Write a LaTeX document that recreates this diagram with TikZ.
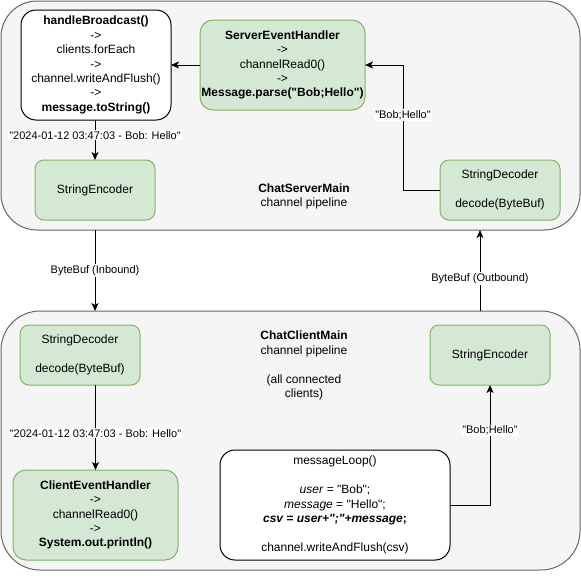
\documentclass[tikz,border=0pt]{standalone}
\usepackage{fontspec}
\setmainfont{Liberation Sans}[Ligatures=TeXOff]
\usepackage{tikz}
\usetikzlibrary{arrows.meta}
\usetikzlibrary{positioning}

\definecolor{pipefill}{HTML}{F5F5F5}
\definecolor{pipeedge}{HTML}{666666}
\definecolor{handlerfill}{HTML}{D5E8D4}
\definecolor{handleredge}{HTML}{82B366}
\newcommand{\boxfont}{\fontsize{12}{14.4}\selectfont}
\newcommand{\lblfont}{\fontsize{11}{13.2}\selectfont}

\begin{document}
\begin{tikzpicture}[x=1pt, y=-1pt,
    pipe/.style={draw=pipeedge, fill=pipefill, line width=1pt, rounded corners=36pt, inner sep=0pt, outer sep=0pt},
    greenbox/.style={draw=handleredge, fill=handlerfill, line width=1pt, rounded corners=9pt,
      align=center, inner sep=0pt, outer sep=0pt, font=\boxfont},
    whitebox/.style={draw=black, fill=white, line width=1pt, rounded corners=15pt,
      align=center, inner sep=0pt, outer sep=0pt, font=\boxfont},
    plain/.style={align=center, font=\boxfont},
    lbl/.style={fill=white, inner sep=1pt, font=\lblfont},
    arr/.style={line width=1pt, -{Stealth[length=8pt, width=7pt, inset=2pt]}}]
      \useasboundingbox (0,0) rectangle (581,579);
      % server side
      \node[pipe, minimum width=579, minimum height=229] (srv) at (290.5,115.5) {};
      \node[whitebox, rounded corners=15pt, minimum width=150, minimum height=110] (hb) at (96,65)
        {\textbf{handleBroadcast()}\\->\\clients.forEach\\->\\channel.writeAndFlush()\\->\\\textbf{message.toString()}};
      \node[greenbox, rounded corners=13pt, minimum width=165, minimum height=90] (seh) at (282.5,65)
        {\textbf{ServerEventHandler}\\->\\channelRead0()\\->\\\textbf{Message.parse("Bob;Hello")}};
      \node[greenbox, minimum width=120, minimum height=60] (senc) at (95,190) {StringEncoder};
      \node[greenbox, minimum width=120, minimum height=60] (sdec) at (500,190) {StringDecoder\\[14.4pt]decode(ByteBuf)};
      \node[plain] (srvname) at (304,196.5) {\textbf{ChatServerMain}\\channel pipeline};
      % client side
      \node[pipe, rounded corners=39pt, minimum width=579, minimum height=259] (cli) at (290.5,440.5) {};
      \node[greenbox, minimum width=120, minimum height=60] (cdec) at (80,355) {StringDecoder\\[14.4pt]decode(ByteBuf)};
      \node[greenbox, rounded corners=13pt, minimum width=165, minimum height=90] (ceh) at (95.5,515)
        {\textbf{ClientEventHandler}\\->\\channelRead0()\\->\\\textbf{System.out.println()}};
      \node[greenbox, minimum width=120, minimum height=60] (cenc) at (490,355) {StringEncoder};
      \node[whitebox, minimum width=230, minimum height=110] (ml) at (335,505)
        {messageLoop()\\[14.4pt]\textit{user} = "Bob";\\\textit{message} = "Hello";\\
         \textbf{\textit{csv = user+";"+message};}\\[14.4pt]channel.writeAndFlush(csv)};
      \node[plain] (cliname) at (304,365.5) {\textbf{ChatClientMain}\\channel pipeline\\[14.4pt](all connected\\clients)};
      % connectors
      \coordinate (outx) at (480,0);
      \draw[arr] (seh.west) -- (hb.east |- seh.west);
      \draw[arr] (sdec.west) -| node[lbl, pos=0.8] {"Bob;Hello"} ([xshift=38pt]seh.east) -- (seh.east);
      \draw[arr] (hb.south -| senc.north) -- node[lbl, pos=0.38] {"2024-01-12 03:47:03 - Bob: Hello"} (senc.north);
      \draw[arr] (senc.south |- srv.south) -- node[lbl] {ByteBuf (Inbound)} (senc.south |- cli.north);
      \draw[arr] (outx |- cli.north) -- node[lbl, pos=0.4] {ByteBuf (Outbound)} (outx |- srv.south);
      \draw[arr] (cdec.south -| ceh.north) -- node[lbl, pos=0.57] {"2024-01-12 03:47:03 - Bob: Hello"} (ceh.north);
      \draw[arr] (ml.east) -| node[lbl, pos=0.81] {"Bob;Hello"} (cenc.south);
\end{tikzpicture}
\end{document}
